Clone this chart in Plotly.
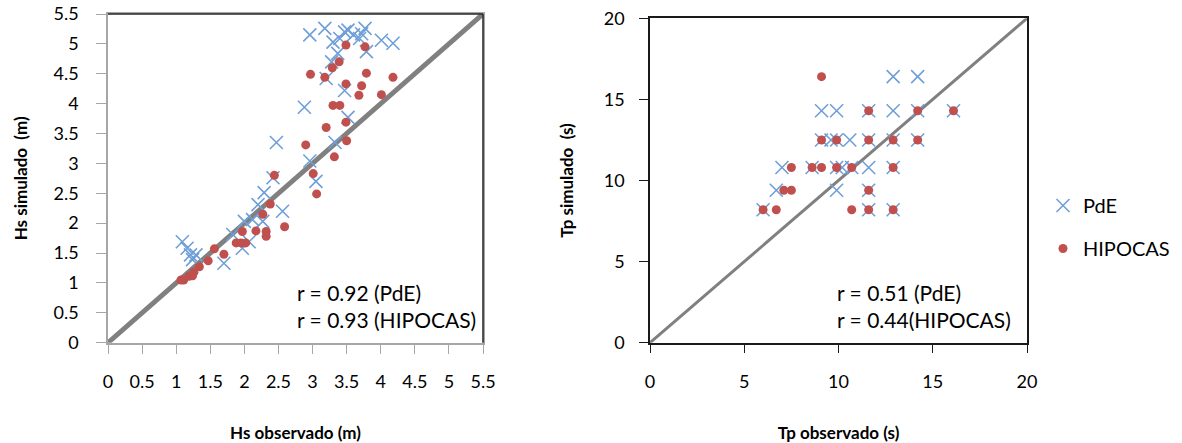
import plotly.graph_objects as go

# ---- Left panel: Hs ----
hs_pde_obs = [2.96, 3.18, 3.30, 3.40, 3.47, 3.52, 3.60, 3.72, 3.77, 3.69, 4.01, 4.18, 3.79, 3.37,
              3.28, 3.20, 3.47, 2.88, 3.52, 3.33, 2.47, 2.96, 3.05, 2.42, 2.29, 2.56, 2.20, 2.00,
              2.12, 2.27, 1.97, 2.07, 1.70, 1.09, 1.16, 1.21, 1.24, 1.29, 1.83]
hs_pde_sim = [5.15, 5.26, 5.03, 5.09, 5.20, 5.23, 5.15, 5.17, 5.26, 5.09, 5.06, 5.01, 4.87, 4.84,
              4.70, 4.42, 4.22, 3.94, 3.77, 3.35, 3.35, 3.04, 2.70, 2.76, 2.51, 2.20, 2.31, 2.03,
              2.06, 2.03, 1.58, 1.69, 1.33, 1.69, 1.58, 1.47, 1.39, 1.47, 1.81]
hs_hip_obs = [3.49, 3.77, 3.39, 3.29, 2.97, 3.18, 3.79, 4.18, 3.49, 3.72, 3.68, 4.01, 3.30, 3.40,
              3.49, 3.20, 3.50, 2.90, 3.32, 3.01, 3.06, 2.44, 2.38, 2.27, 2.59, 2.17, 2.32, 2.32,
              1.97, 1.88, 1.95, 2.02, 1.56, 1.70, 1.47, 1.34, 1.26, 1.19, 1.11, 1.07, 1.24]
hs_hip_sim = [4.98, 4.95, 4.70, 4.60, 4.49, 4.44, 4.51, 4.44, 4.33, 4.30, 4.14, 4.15, 3.97, 3.97,
              3.69, 3.60, 3.38, 3.31, 3.11, 2.83, 2.49, 2.80, 2.32, 2.15, 1.94, 1.87, 1.86, 1.78,
              1.86, 1.67, 1.67, 1.67, 1.57, 1.48, 1.37, 1.27, 1.18, 1.11, 1.05, 1.05, 1.12]
hs_line = [0, 5.5]
hs_ticks = [0, 0.5, 1, 1.5, 2, 2.5, 3, 3.5, 4, 4.5, 5, 5.5]

# ---- Right panel: Tp ----
tp_pde_obs = [12.9, 14.2,
              9.1, 9.9, 11.6, 12.9, 14.2, 16.1,
              9.1, 9.6, 9.9, 10.6, 11.6, 12.9, 14.2,
              7.0, 8.6, 9.9, 10.2, 10.7, 11.6, 12.9,
              6.7, 9.9, 11.6,
              6.0, 11.6, 12.9]
tp_pde_sim = [16.4, 16.4,
              14.3, 14.3, 14.3, 14.3, 14.3, 14.3,
              12.5, 12.5, 12.5, 12.5, 12.5, 12.5, 12.5,
              10.8, 10.8, 10.8, 10.8, 10.8, 10.8, 10.8,
              9.4, 9.4, 9.4,
              8.2, 8.2, 8.2]
tp_hip_obs = [9.1,
              11.6, 14.2, 16.1,
              9.1, 9.9, 11.6, 12.9, 14.2,
              7.5, 8.6, 9.1, 9.9, 10.7, 12.9,
              7.1, 7.5, 11.6,
              6.0, 6.7, 10.7, 11.6, 12.9]
tp_hip_sim = [16.4,
              14.3, 14.3, 14.3,
              12.5, 12.5, 12.5, 12.5, 12.5,
              10.8, 10.8, 10.8, 10.8, 10.8, 10.8,
              9.4, 9.4, 9.4,
              8.2, 8.2, 8.2, 8.2, 8.2]
tp_line = [0, 20]
tp_ticks = [0, 5, 10, 15, 20]

BLUE = "#6f9fd8"
RED = "#c0504d"
FONT = "Lato"
X_MARK = dict(symbol="x-thin", size=13, line=dict(color=BLUE, width=1.6), color=BLUE)
DOT_MARK = dict(symbol="circle", size=9, color=RED)

fig = go.Figure()
fig.add_trace(go.Scatter(x=hs_line, y=hs_line, mode="lines", line=dict(color="#808080", width=5),
                         showlegend=False, xaxis="x", yaxis="y", hoverinfo="skip"))
fig.add_trace(go.Scatter(x=hs_pde_obs, y=hs_pde_sim, mode="markers", name="PdE", showlegend=False,
                         marker=X_MARK, xaxis="x", yaxis="y"))
fig.add_trace(go.Scatter(x=hs_hip_obs, y=hs_hip_sim, mode="markers", name="HIPOCAS", showlegend=False,
                         marker=DOT_MARK, xaxis="x", yaxis="y"))

fig.add_trace(go.Scatter(x=tp_line, y=tp_line, mode="lines", line=dict(color="#808080", width=3),
                         showlegend=False, xaxis="x2", yaxis="y2", hoverinfo="skip"))
fig.add_trace(go.Scatter(x=tp_pde_obs, y=tp_pde_sim, mode="markers", name="PdE", legendgroup="a",
                         marker=X_MARK, xaxis="x2", yaxis="y2"))
fig.add_trace(go.Scatter(x=tp_hip_obs, y=tp_hip_sim, mode="markers", name="HIPOCAS", legendgroup="b",
                         marker=DOT_MARK, xaxis="x2", yaxis="y2"))

TICKFONT = dict(family=FONT, size=18, color="#000000")
TITLEFONT = dict(family=FONT, size=17, color="#000000")
left_axis = dict(showgrid=False, zeroline=False, showline=True, mirror=True, linecolor="#a6a6a6",
                 linewidth=1.5, ticks="outside", ticklen=10, tickcolor="#a6a6a6", tickfont=TICKFONT,
                 automargin=False)
right_axis = dict(showgrid=False, zeroline=False, showline=True, mirror=True, linecolor="#1a1a1a",
                  linewidth=1.5, ticks="outside", ticklen=9, tickcolor="#1a1a1a", tickfont=TICKFONT,
                  automargin=False)

fig.update_layout(
    width=1182, height=443,
    margin=dict(l=0, r=0, t=0, b=0),
    paper_bgcolor="white", plot_bgcolor="white",
    font=dict(family=FONT, color="#000000"),
    xaxis=dict(domain=[108 / 1182, 483 / 1182], range=[0, 5.5], tickvals=hs_ticks,
               ticktext=[f"{v:g}" for v in hs_ticks], anchor="y", ticklabelstandoff=12,
               title=dict(text="<b>Hs observado (m)</b>", font=TITLEFONT, standoff=37),
               **left_axis),
    yaxis=dict(domain=[1 - 342.7 / 443, 1 - 14 / 443], range=[0, 5.5], tickvals=hs_ticks,
               anchor="x", ticklabelstandoff=14,
               title=dict(text="<b>Hs simulado  (m)</b>", font=TITLEFONT, standoff=22),
               **left_axis),
    xaxis2=dict(domain=[650 / 1182, 1027 / 1182], range=[0, 20], tickvals=tp_ticks, anchor="y2",
                ticklabelstandoff=13,
                title=dict(text="<b>Tp observado (s)</b>", font=TITLEFONT, standoff=37),
                **right_axis),
    yaxis2=dict(domain=[1 - 342.7 / 443, 1 - 18.3 / 443], range=[0, 20], tickvals=tp_ticks, anchor="x2",
                ticklabelstandoff=11,
                title=dict(text="<b>Tp simulado  (s)</b>", font=TITLEFONT, standoff=26),
                **right_axis),
    legend=dict(x=1043 / 1182, y=1 - 186 / 443, xanchor="left", yanchor="top",
                font=dict(family=FONT, size=20), traceorder="grouped",
                tracegroupgap=14, itemsizing="trace", bgcolor="rgba(0,0,0,0)"),
    shapes=[
        dict(type="line", xref="x domain", yref="y domain", x0=0, x1=1, y0=1, y1=1,
             line=dict(color="#262626", width=1.5), layer="above"),
        dict(type="line", xref="x domain", yref="y domain", x0=1, x1=1, y0=0, y1=1,
             line=dict(color="#262626", width=1.5), layer="above"),
    ],
    annotations=[
        dict(text="r = 0.92 (PdE)<br>r = 0.93 (HIPOCAS)", xref="paper", yref="paper",
             x=295 / 1182, y=1 - 278 / 443, xanchor="left", yanchor="top", align="left",
             showarrow=False, font=dict(family=FONT, size=21)),
        dict(text="r = 0.51 (PdE)<br>r = 0.44(HIPOCAS)", xref="paper", yref="paper",
             x=835 / 1182, y=1 - 278 / 443, xanchor="left", yanchor="top", align="left",
             showarrow=False, font=dict(family=FONT, size=21)),
    ],
)

fig.write_html("out.html")
